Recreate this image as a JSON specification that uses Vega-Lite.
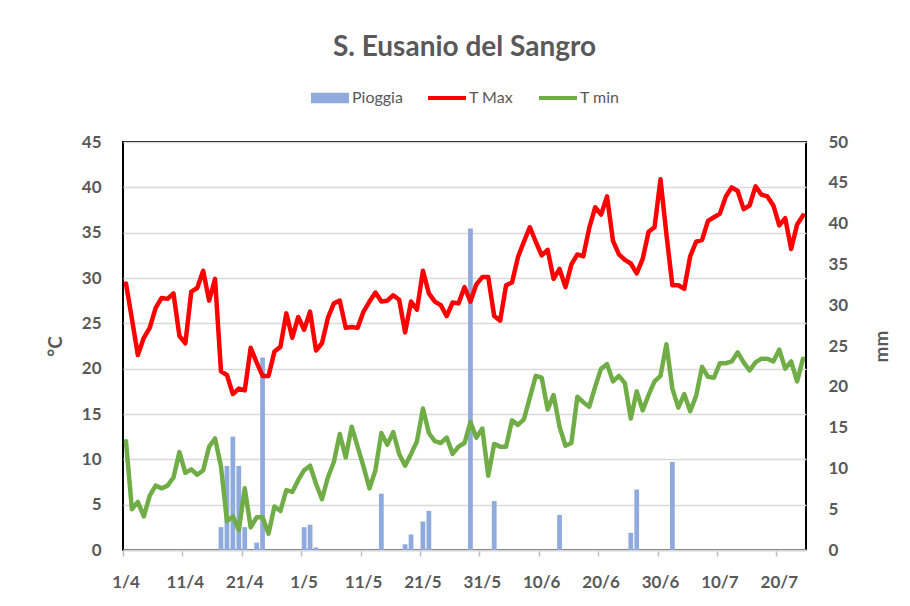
{
  "$schema": "https://vega.github.io/schema/vega-lite/v6.json",
  "autosize": {"type": "none"},
  "width": 683,
  "height": 408,
  "padding": {"left": 123, "top": 142, "right": 104, "bottom": 56},
  "background": "white",
  "config": {
    "font": "Lato",
    "view": {"stroke": "black", "strokeWidth": 2},
    "axis": {"labelFont": "Lato", "titleFont": "Lato", "labelColor": "#595959", "titleColor": "#595959"},
    "legend": {"title": null}
  },
  "title": {"text": "S. Eusanio del Sangro", "font": "Lato", "fontSize": 28, "fontWeight": "bold", "color": "#595959", "anchor": "middle", "frame": "group", "baseline": "alphabetic", "offset": 6},
  "data": {"values": [
    {"g":"1/4","tmax":29.4,"tmin":12.0,"p":0},{"g":"2/4","tmax":25.5,"tmin":4.5,"p":0},{"g":"3/4","tmax":21.5,"tmin":5.3,"p":0},{"g":"4/4","tmax":23.4,"tmin":3.7,"p":0},{"g":"5/4","tmax":24.5,"tmin":6.0,"p":0},{"g":"6/4","tmax":26.7,"tmin":7.1,"p":0},{"g":"7/4","tmax":27.8,"tmin":6.8,"p":0},{"g":"8/4","tmax":27.7,"tmin":7.1,"p":0},{"g":"9/4","tmax":28.3,"tmin":8.0,"p":0},{"g":"10/4","tmax":23.6,"tmin":10.8,"p":0},
    {"g":"11/4","tmax":22.8,"tmin":8.5,"p":0},{"g":"12/4","tmax":28.5,"tmin":8.9,"p":0},{"g":"13/4","tmax":28.9,"tmin":8.3,"p":0},{"g":"14/4","tmax":30.8,"tmin":8.8,"p":0},{"g":"15/4","tmax":27.5,"tmin":11.4,"p":0},{"g":"16/4","tmax":29.9,"tmin":12.3,"p":0},{"g":"17/4","tmax":19.7,"tmin":9.2,"p":2.8},{"g":"18/4","tmax":19.3,"tmin":3.2,"p":10.3},{"g":"19/4","tmax":17.2,"tmin":3.7,"p":13.9},{"g":"20/4","tmax":17.8,"tmin":2.2,"p":10.3},
    {"g":"21/4","tmax":17.6,"tmin":6.8,"p":2.8},{"g":"22/4","tmax":22.3,"tmin":2.5,"p":0},{"g":"23/4","tmax":20.7,"tmin":3.6,"p":0.9},{"g":"24/4","tmax":19.2,"tmin":3.6,"p":23.6},{"g":"25/4","tmax":19.2,"tmin":1.8,"p":0},{"g":"26/4","tmax":21.9,"tmin":4.8,"p":0},{"g":"27/4","tmax":22.4,"tmin":4.3,"p":0},{"g":"28/4","tmax":26.1,"tmin":6.6,"p":0},{"g":"29/4","tmax":23.4,"tmin":6.4,"p":0},{"g":"30/4","tmax":25.7,"tmin":7.7,"p":0},
    {"g":"1/5","tmax":24.3,"tmin":8.8,"p":2.8},{"g":"2/5","tmax":26.3,"tmin":9.3,"p":3.1},{"g":"3/5","tmax":22.0,"tmin":7.3,"p":0.3},{"g":"4/5","tmax":22.8,"tmin":5.6,"p":0},{"g":"5/5","tmax":25.6,"tmin":8.0,"p":0},{"g":"6/5","tmax":27.2,"tmin":9.7,"p":0},{"g":"7/5","tmax":27.5,"tmin":12.8,"p":0},{"g":"8/5","tmax":24.5,"tmin":10.2,"p":0},{"g":"9/5","tmax":24.6,"tmin":13.6,"p":0},{"g":"10/5","tmax":24.5,"tmin":11.4,"p":0},
    {"g":"11/5","tmax":26.3,"tmin":9.2,"p":0},{"g":"12/5","tmax":27.4,"tmin":6.8,"p":0},{"g":"13/5","tmax":28.4,"tmin":8.8,"p":0},{"g":"14/5","tmax":27.4,"tmin":12.9,"p":6.9},{"g":"15/5","tmax":27.5,"tmin":11.6,"p":0},{"g":"16/5","tmax":28.1,"tmin":13.0,"p":0},{"g":"17/5","tmax":27.6,"tmin":10.6,"p":0},{"g":"18/5","tmax":24.0,"tmin":9.3,"p":0.7},{"g":"19/5","tmax":27.4,"tmin":10.6,"p":1.9},{"g":"20/5","tmax":26.5,"tmin":12.0,"p":0},
    {"g":"21/5","tmax":30.8,"tmin":15.6,"p":3.5},{"g":"22/5","tmax":28.3,"tmin":12.9,"p":4.8},{"g":"23/5","tmax":27.4,"tmin":12.0,"p":0},{"g":"24/5","tmax":27.0,"tmin":11.8,"p":0},{"g":"25/5","tmax":25.8,"tmin":12.4,"p":0},{"g":"26/5","tmax":27.3,"tmin":10.6,"p":0},{"g":"27/5","tmax":27.2,"tmin":11.4,"p":0},{"g":"28/5","tmax":29.0,"tmin":11.8,"p":0},{"g":"29/5","tmax":27.4,"tmin":14.1,"p":39.4},{"g":"30/5","tmax":29.3,"tmin":12.4,"p":0},
    {"g":"31/5","tmax":30.1,"tmin":13.4,"p":0},{"g":"1/6","tmax":30.1,"tmin":8.2,"p":0},{"g":"2/6","tmax":25.8,"tmin":11.7,"p":6.0},{"g":"3/6","tmax":25.3,"tmin":11.4,"p":0},{"g":"4/6","tmax":29.2,"tmin":11.4,"p":0},{"g":"5/6","tmax":29.5,"tmin":14.3,"p":0},{"g":"6/6","tmax":32.3,"tmin":13.8,"p":0},{"g":"7/6","tmax":34.0,"tmin":14.4,"p":0},{"g":"8/6","tmax":35.6,"tmin":16.8,"p":0},{"g":"9/6","tmax":34.0,"tmin":19.2,"p":0},
    {"g":"10/6","tmax":32.5,"tmin":19.0,"p":0},{"g":"11/6","tmax":33.1,"tmin":15.5,"p":0},{"g":"12/6","tmax":29.9,"tmin":17.1,"p":0},{"g":"13/6","tmax":31.0,"tmin":13.6,"p":4.3},{"g":"14/6","tmax":29.0,"tmin":11.5,"p":0},{"g":"15/6","tmax":31.5,"tmin":11.8,"p":0},{"g":"16/6","tmax":32.6,"tmin":16.9,"p":0},{"g":"17/6","tmax":32.4,"tmin":16.3,"p":0},{"g":"18/6","tmax":35.5,"tmin":15.8,"p":0},{"g":"19/6","tmax":37.8,"tmin":18.0,"p":0},
    {"g":"20/6","tmax":37.0,"tmin":20.0,"p":0},{"g":"21/6","tmax":39.0,"tmin":20.5,"p":0},{"g":"22/6","tmax":34.1,"tmin":18.6,"p":0},{"g":"23/6","tmax":32.6,"tmin":19.2,"p":0},{"g":"24/6","tmax":32.0,"tmin":18.4,"p":0},{"g":"25/6","tmax":31.6,"tmin":14.5,"p":2.1},{"g":"26/6","tmax":30.5,"tmin":17.5,"p":7.4},{"g":"27/6","tmax":32.1,"tmin":15.4,"p":0},{"g":"28/6","tmax":35.1,"tmin":17.1,"p":0},{"g":"29/6","tmax":35.6,"tmin":18.6,"p":0},
    {"g":"30/6","tmax":40.9,"tmin":19.2,"p":0},{"g":"1/7","tmax":34.8,"tmin":22.7,"p":0},{"g":"2/7","tmax":29.2,"tmin":17.8,"p":10.8},{"g":"3/7","tmax":29.2,"tmin":15.7,"p":0},{"g":"4/7","tmax":28.8,"tmin":17.2,"p":0},{"g":"5/7","tmax":32.4,"tmin":15.3,"p":0},{"g":"6/7","tmax":34.0,"tmin":17.0,"p":0},{"g":"7/7","tmax":34.2,"tmin":20.2,"p":0},{"g":"8/7","tmax":36.3,"tmin":19.1,"p":0},{"g":"9/7","tmax":36.7,"tmin":19.0,"p":0},
    {"g":"10/7","tmax":37.1,"tmin":20.6,"p":0},{"g":"11/7","tmax":39.0,"tmin":20.6,"p":0},{"g":"12/7","tmax":40.0,"tmin":20.8,"p":0},{"g":"13/7","tmax":39.6,"tmin":21.8,"p":0},{"g":"14/7","tmax":37.6,"tmin":20.7,"p":0},{"g":"15/7","tmax":38.0,"tmin":19.8,"p":0},{"g":"16/7","tmax":40.1,"tmin":20.7,"p":0},{"g":"17/7","tmax":39.2,"tmin":21.1,"p":0},{"g":"18/7","tmax":39.0,"tmin":21.1,"p":0},{"g":"19/7","tmax":38.0,"tmin":20.8,"p":0},
    {"g":"20/7","tmax":35.8,"tmin":22.1,"p":0},{"g":"21/7","tmax":36.6,"tmin":20.0,"p":0},{"g":"22/7","tmax":33.2,"tmin":20.8,"p":0},{"g":"23/7","tmax":35.9,"tmin":18.6,"p":0},{"g":"24/7","tmax":36.9,"tmin":21.1,"p":0}
  ]},
  "encoding": {
    "x": {
      "field": "g", "type": "ordinal", "sort": null,
      "scale": {"type": "band", "paddingInner": 0.2, "paddingOuter": 0.1},
      "axis": {
        "title": null, "labelAngle": 0, "bandPosition": 0,
        "values": ["1/4","11/4","21/4","1/5","11/5","21/5","31/5","10/6","20/6","30/6","10/7","20/7"],
        "labelFontSize": 17, "labelFontWeight": "bold", "labelPadding": 18,
        "domainColor": "#D9D9D9", "domainWidth": 2, "tickColor": "#BFBFBF", "tickWidth": 1.5, "tickSize": 6, "grid": false
      }
    }
  },
  "layer": [
    {
      "mark": {"type": "bar", "color": "#8FAADC"},
      "encoding": {
        "y": {"field": "p", "type": "quantitative", "scale": {"domain": [0, 50], "nice": false},
          "axis": {"orient": "right", "title": "mm", "titleAngle": 270, "titleFontSize": 19, "titleFontWeight": "bold", "titlePadding": 44,
            "values": [0,5,10,15,20,25,30,35,40,45,50], "labelFontSize": 17, "labelFontWeight": "bold", "labelPadding": 22,
            "ticks": false, "tickSize": 0, "domain": false, "grid": false}},
        "color": {"datum": "Pioggia", "type": "nominal",
          "scale": {"domain": ["Pioggia", "tmax", "tmin"], "range": ["#8FAADC", "#FF0000", "#70AD47"]},
          "legend": {"orient": "none", "direction": "horizontal", "legendX": 199, "legendY": -52, "title": null, "padding": 0,
            "labelFont": "Lato", "labelFontSize": 16, "labelColor": "#595959", "labelOffset": 14, "columnPadding": 17, "symbolSize": 1444,
            "labelExpr": "datum.value == 'tmax' ? 'T Max' : datum.value == 'tmin' ? 'T min' : datum.value",
            "encode": {"symbols": {"update": {
              "shape": {"signal": "datum.value == 'Pioggia' ? 'M-1,-0.27H1V0.27H-1Z' : 'M-1,0H1'"},
              "fill": {"signal": "datum.value == 'Pioggia' ? '#8FAADC' : 'transparent'"},
              "stroke": {"signal": "datum.value == 'Pioggia' ? '#8FAADC' : datum.value == 'tmax' ? '#FF0000' : '#70AD47'"},
              "strokeWidth": {"signal": "datum.value == 'Pioggia' ? 0 : 4"},
              "opacity": {"value": 1}
            }}}}
        }
      }
    },
    {
      "transform": [{"fold": ["tmax", "tmin"], "as": ["serie", "val"]}],
      "mark": {"type": "line", "strokeWidth": 4.5, "strokeJoin": "round", "strokeCap": "round"},
      "encoding": {
        "y": {"field": "val", "type": "quantitative", "scale": {"domain": [0, 45], "nice": false},
          "axis": {"orient": "left", "title": "°C", "titleAngle": 270, "titleFontSize": 19, "titleFontWeight": "bold", "titlePadding": 16,
            "values": [0,5,10,15,20,25,30,35,40,45], "labelFontSize": 17, "labelFontWeight": "bold", "labelPadding": 22,
            "ticks": false, "tickSize": 0, "domain": false, "grid": true, "gridColor": "#D9D9D9", "gridWidth": 1.5}},
        "color": {"field": "serie", "type": "nominal",
          "legend": {"orient": "none", "direction": "horizontal", "legendX": 199, "legendY": -52, "title": null, "padding": 0,
            "labelFont": "Lato", "labelFontSize": 16, "labelColor": "#595959", "labelOffset": 14, "columnPadding": 17, "symbolSize": 1444,
            "labelExpr": "datum.value == 'tmax' ? 'T Max' : datum.value == 'tmin' ? 'T min' : datum.value",
            "encode": {"symbols": {"update": {
              "shape": {"signal": "datum.value == 'Pioggia' ? 'M-1,-0.27H1V0.27H-1Z' : 'M-1,0H1'"},
              "fill": {"signal": "datum.value == 'Pioggia' ? '#8FAADC' : 'transparent'"},
              "stroke": {"signal": "datum.value == 'Pioggia' ? '#8FAADC' : datum.value == 'tmax' ? '#FF0000' : '#70AD47'"},
              "strokeWidth": {"signal": "datum.value == 'Pioggia' ? 0 : 4"},
              "opacity": {"value": 1}
            }}}}},
        "detail": {"field": "serie"}
      }
    }
  ],
  "resolve": {"scale": {"y": "independent"}}
}
